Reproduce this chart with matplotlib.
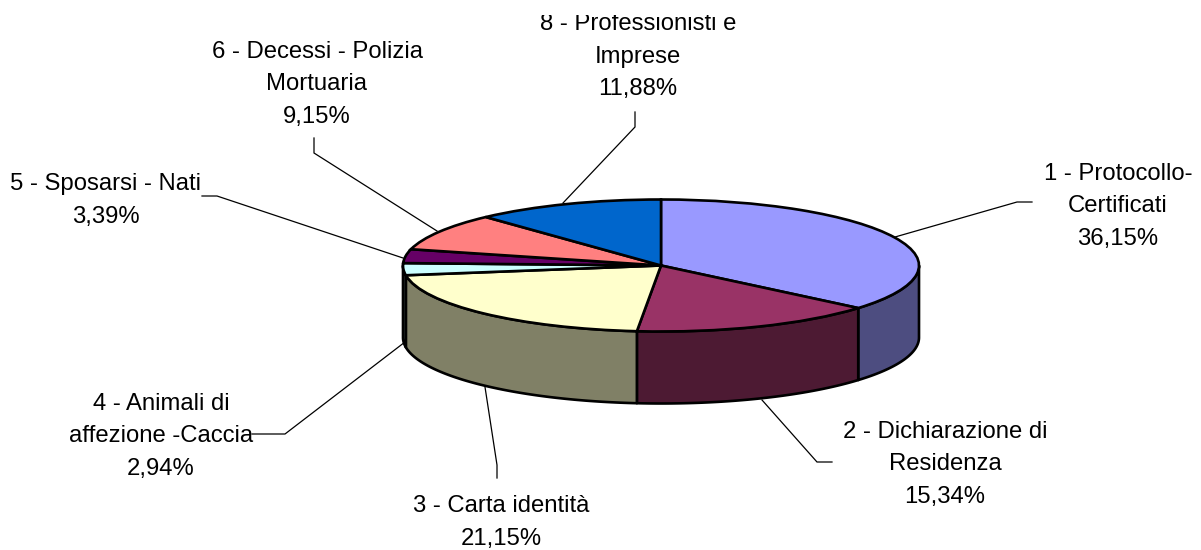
import matplotlib
matplotlib.use("Agg")
import matplotlib.pyplot as plt
import numpy as np

plt.rcParams["font.family"] = ["Liberation Sans", "DejaVu Sans"]

# data
categories = [
    "1 - Protocollo-\nCertificati",
    "2 - Dichiarazione di\nResidenza",
    "3 - Carta identità",
    "4 - Animali di\naffezione -Caccia",
    "5 - Sposarsi - Nati",
    "6 - Decessi - Polizia\nMortuaria",
    "8 - Professionisti e\nImprese",
]
values = [36.15, 15.34, 21.15, 2.94, 3.39, 9.15, 11.88]
top_colors = ["#9999ff", "#993366", "#ffffcc", "#ccffff", "#660066", "#ff8080", "#0066cc"]
side_colors = ["#4d4d80", "#4d1a33", "#808066", "#668080", "#330033", "#804040", "#003366"]

W, H = 1201, 550
CX, CY, RX, RY, DEPTH = 661, 265.5, 258, 66, 72

# label centre x and first baseline, in pixels
label_pos = [(1118, 180), (945, 438), (501, 512), (161, 410), (106, 190), (317, 58), (638, 30)]
leaders = [
    [(895, 237), (1017, 202), (1032, 202)],
    [(762, 400), (817, 462), (832, 462)],
    [(485, 387), (497, 465), (497, 478)],
    [(405, 342), (285, 434), (252, 434)],
    [(403, 258), (217, 196), (202, 196)],
    [(437, 231), (314, 153), (314, 138)],
    [(563, 203), (635, 127), (635, 112)],
]

fig = plt.figure(figsize=(W / 100, H / 100), dpi=100)

# pixel axes for the labels and leader lines
bg = fig.add_axes([0, 0, 1, 1])
bg.set_xlim(0, W)
bg.set_ylim(H, 0)
bg.axis("off")

for pts in leaders:
    xs, ys = zip(*pts)
    bg.plot(xs, ys, color="black", lw=0.9, solid_joinstyle="miter")

for name, value, (x, y) in zip(categories, values, label_pos):
    lines = name.split("\n") + [f"{value:.2f}%".replace(".", ",")]
    for i, line in enumerate(lines):
        bg.text(x, y + i * 32.5, line, ha="center", va="baseline", fontsize=17.2, color="black")

# the image crops the top label
bg.fill_between([0, W], 0, 14.5, color="white", zorder=5, lw=0)

# pie axes: unit circle squashed into the top ellipse
pie_ax = fig.add_axes([(CX - RX) / W, 1 - (CY + RY) / H, 2 * RX / W, 2 * RY / H])
pie_ax.patch.set_alpha(0)

# side wall, angles clockwise from top
edges = np.concatenate([[0], np.cumsum(values)]) / np.sum(values) * 2 * np.pi
depth = DEPTH / RY
for a, b, col in zip(edges[:-1], edges[1:], side_colors):
    lo, hi = max(a, np.pi / 2), min(b, 3 * np.pi / 2)
    if lo >= hi:
        continue
    t = np.linspace(lo, hi, 80)
    px = np.sin(t)
    py = np.cos(t)
    pie_ax.fill(
        np.r_[px, px[::-1]], np.r_[py, py[::-1] - depth],
        facecolor=col, edgecolor="black", lw=1.9, clip_on=False, joinstyle="round",
    )

wedges, _ = pie_ax.pie(
    values, colors=top_colors, startangle=90, counterclock=False,
    radius=1, wedgeprops={"edgecolor": "black", "linewidth": 1.9, "clip_on": False},
)
pie_ax.set_aspect("auto")
pie_ax.set_xlim(-1, 1)
pie_ax.set_ylim(-1, 1)
pie_ax.axis("off")

fig.savefig("out.png", dpi=100)
